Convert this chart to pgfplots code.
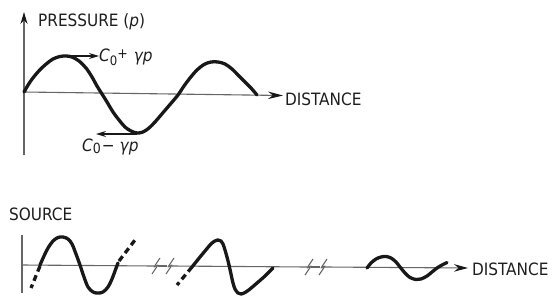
\documentclass[border=0pt]{standalone}
\usepackage{pgfplots}
\pgfplotsset{compat=1.18}
\usetikzlibrary{arrows.meta}
\usepackage{fontspec}
\setmainfont{DejaVu Sans Condensed}

\definecolor{ink}{HTML}{181818}
\definecolor{axisgray}{HTML}{666666}
\definecolor{txt}{HTML}{1E1E1E}

\tikzset{
  wave/.style={ink, line width=3.3pt, line cap=round, line join=round, smooth, tension=0.55},
  dsh/.style={ink, line width=3.3pt, line cap=butt, dash pattern=on 6pt off 4pt},
  ax/.style={axisgray, line width=1.1pt},
  brk/.style={axisgray, line width=1.1pt, line join=round},
  lbl/.style={txt, font=\fontsize{17}{17}\selectfont, inner sep=0pt},
}

\begin{document}
\begin{tikzpicture}
\begin{axis}[
  scale only axis, width=559pt, height=297pt,
  xmin=0, xmax=559, ymin=0, ymax=297, y dir=reverse,
  hide axis, clip=false,
]
\addplot[draw=none, no marks] coordinates {(0,0) (559,297)};

% ---------- top diagram ----------
\addplot[ax, no marks, -{Stealth[length=12pt,width=7pt,color=ink]}] coordinates {(24,155) (24,12)};
\addplot[ax, no marks, -{Stealth[length=15pt,width=7.5pt,color=ink]}] coordinates {(24,92) (283,95.5)};
\addplot[wave, no marks] coordinates {
 (24,92) (30,82) (37,73) (45,65) (53,59) (60,56.5) (66,56) (72,57) (79,61)
 (86,68) (92,77) (97,86) (102,94) (107,102) (113,112) (119,120) (125,127)
 (131,131) (137,133) (143,132) (149,128) (155,122) (161,115) (167,108)
 (173,101) (178,95) (184,86) (190,78) (197,70) (204,64.5) (211,62) (218,62)
 (225,64) (232,69) (239,76) (245,82) (251,88) (257,95)};
\addplot[ink, line width=1.3pt, no marks, -{Stealth[length=10pt,width=6pt]}] coordinates {(70,56) (99,56)};
\addplot[ink, line width=1.3pt, no marks, -{Stealth[length=10pt,width=6pt]}] coordinates {(137,134) (96,134)};

\node[lbl, anchor=base west] at (axis cs:38,27) {PRESSURE ({\itshape p})};
\node[lbl, anchor=base west] at (axis cs:285,105) {DISTANCE};
\node[lbl, anchor=base west] at (axis cs:99,61) {{\itshape C}\raisebox{-4pt}{\fontsize{13}{13}\selectfont 0}\raisebox{3pt}{\fontsize{14}{14}\selectfont +}\hspace{6pt}{\itshape γp}};
\node[lbl, anchor=base west] at (axis cs:82,151) {{\itshape C}\raisebox{-2pt}{\fontsize{14}{14}\selectfont 0}\hspace{1pt}−\hspace{5pt}{\itshape γp}};

% ---------- bottom diagram ----------
\node[lbl, anchor=base west] at (axis cs:9,220) {SOURCE};
\node[lbl, anchor=base west] at (axis cs:472,275) {DISTANCE};
\addplot[ax, no marks] coordinates {(22,235) (22,293)};
\addplot[ax, no marks] coordinates {(22,265) (154,266)};
\addplot[ax, no marks] coordinates {(158,266) (167,266)};
\addplot[ax, no marks] coordinates {(172,266) (307,267)};
\addplot[ax, no marks] coordinates {(311,267) (320,267)};
\addplot[ax, no marks, -{Stealth[length=14pt,width=7.5pt,color=ink]}] coordinates {(325,267) (468,268)};
% break marks
\addplot[brk, no marks] coordinates {(160,258) (154,267) (158,265) (152,274)};
\addplot[brk, no marks] coordinates {(174,258) (168,267) (172,265) (166,274)};
\addplot[brk, no marks] coordinates {(313,259) (307,268) (311,266) (305,275)};
\addplot[brk, no marks] coordinates {(327,259) (321,268) (325,266) (319,275)};

% first wave
\addplot[dsh, no marks] coordinates {(40,266) (31,288)};
\addplot[wave, no marks] coordinates {
 (40,265) (44,256) (48,248) (53,241) (58,237.5) (63,237) (68,239) (72,244)
 (76,254) (80,265) (84,277) (88,287) (93,292) (98,293) (103,292) (108,287)
 (112,279) (115,271) (118,263)};
\addplot[dsh, no marks] coordinates {(119,261) (135,240)};

% second wave
\addplot[dsh, no marks] coordinates {(192,267) (177,285)};
\addplot[wave, no marks] coordinates {
 (192,267) (196,262) (200,257) (205,251) (210,245) (214,241.5) (218,240)
 (221,241) (223,244) (225,250) (227,257) (229,265) (231,274) (233,283)
 (235,289) (238,293) (241,294) (245,292.5) (250,289) (257,283) (265,276) (273,268)};

% third wave
\addplot[wave, no marks] coordinates {
 (367,268) (371,263) (376,259) (381,257) (386,256.5) (391,258) (396,262)
 (400,267) (405,273) (410,277.5) (416,279.5) (421,279) (427,276) (432,272)
 (437,268) (442,265) (447,262.5)};
\end{axis}
\end{tikzpicture}
\end{document}
